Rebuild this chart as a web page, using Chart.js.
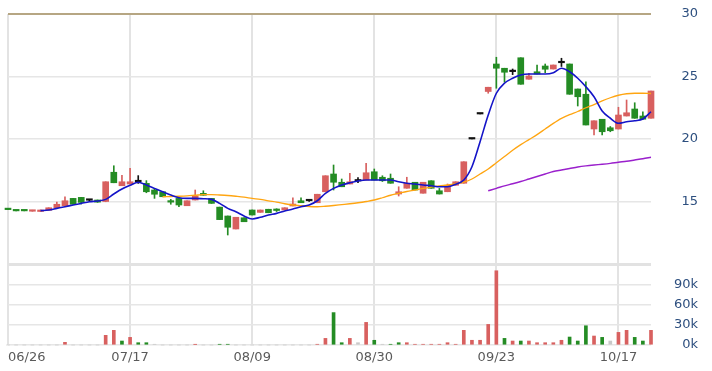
<!DOCTYPE html>
<html>
<head>
<meta charset="utf-8">
<script src="https://cdn.jsdelivr.net/npm/chart.js@4.4.0/dist/chart.umd.min.js"></script>
<style>
  html, body { margin: 0; padding: 0; background: #fff; }
  #wrap { width: 712px; height: 371px; }
</style>
</head>
<body>
<div id="wrap"><canvas id="priceChart" width="712" height="371"></canvas></div>
<script>
// x axis labels, one every 15 sessions
const tickLabels = ['06/26', '07/17', '08/09', '08/30', '09/23', '10/17'];
const tickEvery = 15;

// daily candles
const open  = [14.45,14.3,14.3,14.22,14.2,14.3,14.5,14.66,15.25,15.33, 15.1,15.12,15.0,17.34,16.26,16.4,16.58,16.45,15.92,15.78,
               15.0,15.25,14.66,15.12,15.65,15.25,14.55,13.84,12.8,13.7, 14.32,14.13,14.38,14.32,14.32,14.64,15.06,15.06,14.9,15.78,
               17.2,16.54,16.4,16.64,16.72,17.38,16.94,16.86,15.6,16.06, 16.54,15.66,16.66,15.86,15.78,16.3,16.46,20.0,22.0,23.8,
               26.0,25.66,25.39,26.5,24.78,25.38,25.84,25.6,26.1,26.0, 24.0,23.58,20.8,21.58,20.9,20.8,21.84,22.4,21.84,21.66];
const high  = [14.45,14.3,14.3,14.3,14.32,14.5,14.95,15.38,15.25,15.33, 15.17,15.12,16.58,17.86,17.1,17.66,17.07,16.67,16.05,15.78,
               15.17,15.25,15.06,15.92,15.86,15.25,14.55,13.84,13.74,13.7, 14.32,14.32,14.38,14.42,14.5,15.3,15.3,15.12,15.58,17.06,
               17.92,16.8,17.26,16.92,18.06,17.6,17.06,17.2,16.18,16.94, 16.54,16.54,16.66,16.05,16.4,16.58,18.18,20.0,22.0,24.14,
               26.54,25.66,25.6,26.5,25.26,25.92,26.0,25.92,26.46,26.0, 24.0,24.58,21.46,21.58,21.0,22.54,23.12,22.9,22.18,23.84];
const low   = [14.35,14.25,14.25,14.22,14.2,14.3,14.5,14.66,14.78,14.8, 15.04,14.93,14.98,16.5,16.26,16.4,16.45,15.7,15.25,15.38,
               14.78,14.58,14.66,15.12,15.5,14.85,13.55,12.32,12.8,13.38, 13.92,14.13,14.1,14.2,14.32,14.64,14.9,15.0,14.9,15.78,
               15.92,16.18,16.4,16.5,16.72,16.72,16.6,16.46,15.44,16.06, 15.92,15.66,16.06,15.6,15.78,16.3,16.46,20.0,22.0,23.66,
               24.06,24.54,25.15,24.38,24.78,25.2,25.3,25.6,25.8,23.58, 22.64,21.12,20.32,20.32,20.58,20.8,21.84,21.66,21.58,21.66];
const close = [14.35,14.25,14.25,14.27,14.3,14.5,14.78,15.06,14.78,14.93, 15.1,14.95,16.58,16.5,16.58,16.58,16.58,15.78,15.58,15.38,
               14.95,14.72,15.06,15.44,15.5,14.85,13.55,12.94,13.74,13.38, 13.92,14.32,14.1,14.28,14.5,14.8,14.9,15.06,15.58,17.06,
               16.54,16.18,16.58,16.64,17.3,16.72,16.66,16.46,15.78,16.46, 15.92,16.54,16.06,15.6,16.3,16.58,18.18,20.0,22.0,24.14,
               25.66,25.34,25.39,24.38,25.04,25.2,25.58,25.92,26.1,23.58, 23.38,21.12,21.46,20.58,20.66,21.92,22.1,21.66,21.58,23.84];

// traded volume and its colour: u = up, d = down, n = flat
const volume = [0,0,0,0,0,0,0,4000,0,0, 0,0,14300,21700,5900,11300,3400,3400,1000,0,
                0,0,0,800,0,0,1000,1000,0,0, 0,0,0,0,0,0,0,0,1000,9800,
                48000,3400,9800,3400,33500,7000,1000,1000,3400,3400, 1000,1000,1000,1000,3400,1000,21700,7000,7000,30500,
                110000,9800,5900,5900,5900,3400,3400,3400,7000,11800, 5900,28500,13300,11300,5900,18700,21700,11300,5900,21700];
const volDir = ['n','n','n','n','n','n','n','u','n','n', 'n','n','u','u','d','u','d','d','n','n',
                'n','n','n','u','n','n','d','d','n','n', 'n','n','n','n','n','n','n','n','u','u',
                'd','d','u','n','u','d','n','d','d','u', 'u','u','u','u','u','u','u','u','u','u',
                'u','d','u','d','u','u','u','u','u','d', 'd','d','u','d','n','u','u','d','d','u'];

// moving averages as drawn (null where the line has not started)
const ma5 = [null,null,null,null,14.27,14.32,14.45,14.58,14.72,14.85, 14.98,15.04,15.17,15.6,16.0,16.3,16.54,16.32,16.05,15.78,
             15.52,15.3,15.25,15.25,15.22,15.17,14.85,14.45,14.18,13.84, 13.6,13.74,13.92,14.05,14.24,14.4,14.58,14.72,15.06,15.65,
             16.05,16.32,16.5,16.64,16.72,16.72,16.72,16.72,16.58,16.46, 16.4,16.32,16.26,16.18,16.18,16.38,16.72,17.78,19.78,21.92,
             23.66,24.46,24.86,25.12,25.2,25.2,25.2,25.3,25.66,25.38, 24.86,24.18,23.38,22.24,21.66,21.26,21.38,21.46,21.6,22.18];
const ma20 = [null,null,null,null,null,null,null,null,null,null, null,null,null,null,null,null,null,null,null,15.38,
              15.4,15.42,15.45,15.5,15.55,15.55,15.52,15.48,15.42,15.35, 15.25,15.17,15.05,14.95,14.82,14.72,14.66,14.6,14.58,14.62,
              14.68,14.75,14.82,14.9,15.0,15.12,15.3,15.5,15.65,15.8, 15.92,16.05,16.15,16.25,16.32,16.42,16.55,16.8,17.2,17.6,
              18.1,18.6,19.1,19.55,19.95,20.35,20.8,21.25,21.65,21.95, 22.2,22.5,22.75,23.05,23.3,23.5,23.62,23.66,23.66,23.64];
const ma60 = [null,null,null,null,null,null,null,null,null,null, null,null,null,null,null,null,null,null,null,null,
              null,null,null,null,null,null,null,null,null,null, null,null,null,null,null,null,null,null,null,null,
              null,null,null,null,null,null,null,null,null,null, null,null,null,null,null,null,null,null,null,15.86,
              16.05,16.25,16.42,16.6,16.8,17.0,17.2,17.4,17.52,17.64, 17.76,17.85,17.92,17.98,18.05,18.14,18.22,18.32,18.42,18.54];

const RED = '#d8605f';
const GREEN = '#248c24';
const BLACK = '#111111';
const FLAT = '#c9c9c9';

const days = open.map((_, i) => i);
const candleColors = open.map((o, i) => close[i] > o ? RED : (close[i] < o ? GREEN : BLACK));
const volColors = volDir.map(d => d === 'u' ? RED : (d === 'd' ? GREEN : FLAT));

const ctx = document.getElementById('priceChart').getContext('2d');
new Chart(ctx, {
    type: 'bar',
    data: {
        labels: days,
        datasets: [
            {
                type: 'line', data: ma5, yAxisID: 'y', order: 0,
                borderColor: '#1414c8', borderWidth: 1.6, pointRadius: 0,
                cubicInterpolationMode: 'monotone'
            },
            {
                type: 'line', data: ma20, yAxisID: 'y', order: 0,
                borderColor: '#ffa511', borderWidth: 1.3, pointRadius: 0,
                cubicInterpolationMode: 'monotone'
            },
            {
                type: 'line', data: ma60, yAxisID: 'y', order: 0,
                borderColor: '#9a20cc', borderWidth: 1.5, pointRadius: 0,
                cubicInterpolationMode: 'monotone'
            },
            {
                // candle bodies
                data: open.map((o, i) => [o, close[i]]), yAxisID: 'y', order: 1,
                backgroundColor: candleColors, barThickness: 6, minBarLength: 1.5,
                grouped: false, clip: false
            },
            {
                // wicks
                data: low.map((l, i) => [l, high[i]]), yAxisID: 'y', order: 2,
                backgroundColor: candleColors, barThickness: 1,
                grouped: false, clip: false
            },
            {
                data: volume, yAxisID: 'yv', order: 3,
                backgroundColor: volColors, barThickness: 3,
                grouped: false, clip: false
            }
        ]
    },
    options: {
        responsive: false,
        animation: false,
        layout: { padding: { left: 8, top: 14, right: 14, bottom: 0 } },
        plugins: { legend: { display: false }, tooltip: { enabled: false } },
        scales: {
            x: {
                offset: false,
                border: { display: false },
                grid: {
                    offset: false,
                    drawTicks: false,
                    color: c => c.index % tickEvery === 0 ? '#e3e3e3' : 'rgba(0,0,0,0)',
                    lineWidth: 2
                },
                ticks: {
                    autoSkip: false, maxRotation: 0, align: 'inner', padding: 5,
                    color: '#5a5a5a', font: { family: 'DejaVu Sans', size: 13 },
                    callback: (v, i) => i % tickEvery === 0 ? tickLabels[i / tickEvery] : ''
                },
                afterFit: s => { s.height = 26; }
            },
            y: {
                position: 'right', stack: 'pane', stackWeight: 250,
                min: 10, max: 30,
                border: { display: false },
                grid: {
                    drawTicks: false,
                    color: c => c.tick.value === 30 ? '#b6a683' : (c.tick.value === 10 ? 'rgba(0,0,0,0)' : '#e6e6e6'),
                    lineWidth: c => c.tick.value === 30 ? 2 : 1.5
                },
                ticks: {
                    stepSize: 5, crossAlign: 'far', autoSkip: false,
                    color: '#2d4f7f', font: { family: 'DejaVu Sans', size: 13 },
                    callback: v => v === 10 ? '' : v
                },
                afterFit: s => { s.width = 47; }
            },
            yv: {
                position: 'right', stack: 'pane', stackWeight: 81,
                min: 0, max: 120000,
                border: { display: false },
                grid: {
                    drawTicks: false,
                    color: c => c.tick.value === 120000 ? '#e2e2e2' : '#e6e6e6',
                    lineWidth: c => c.tick.value === 120000 ? 3 : 1.5
                },
                ticks: {
                    stepSize: 30000, crossAlign: 'far', autoSkip: false,
                    color: '#2d4f7f', font: { family: 'DejaVu Sans', size: 13 },
                    callback: v => v === 120000 ? '' : (v / 1000) + 'k'
                },
                afterFit: s => { s.width = 47; }
            }
        }
    }
});
</script>
</body>
</html>
